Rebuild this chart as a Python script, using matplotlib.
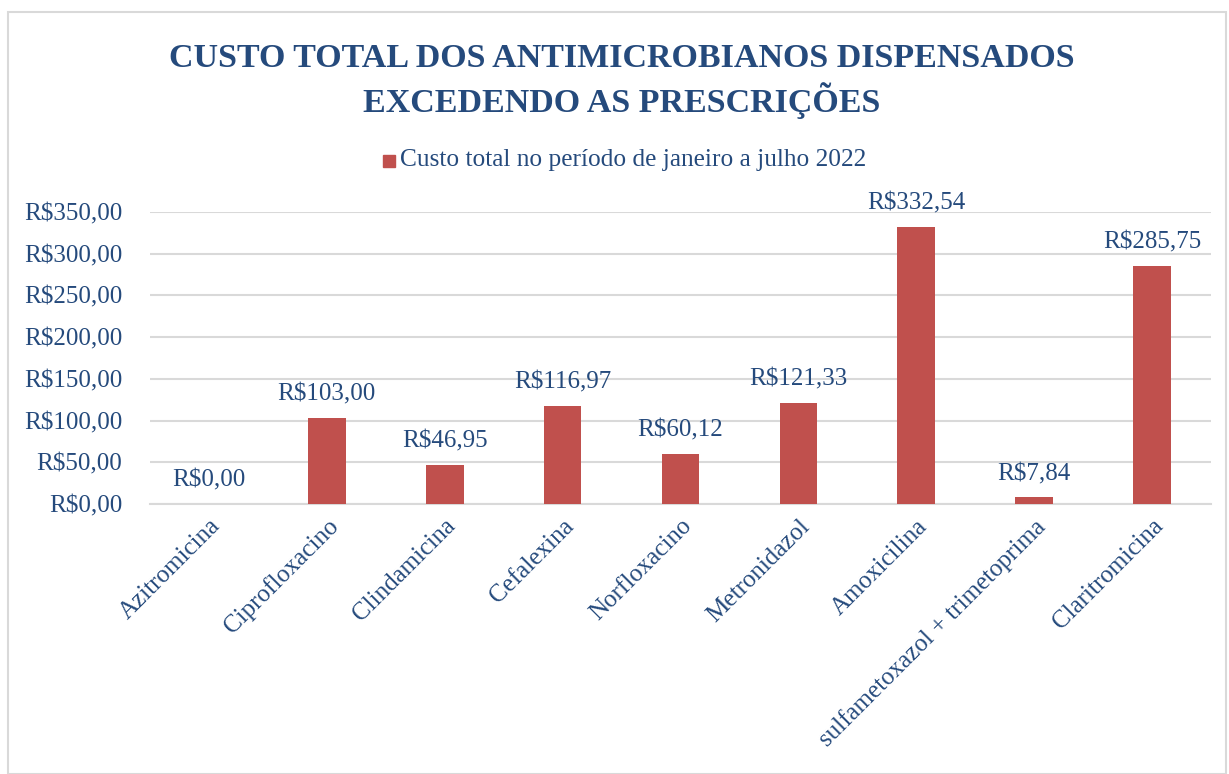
import matplotlib
matplotlib.use("Agg")
import matplotlib.pyplot as plt
from matplotlib.patches import Rectangle

categories = ["Azitromicina", "Ciprofloxacino", "Clindamicina", "Cefalexina",
              "Norfloxacino", "Metronidazol", "Amoxicilina",
              "sulfametoxazol + trimetoprima", "Claritromicina"]
values = [0.00, 103.00, 46.95, 116.97, 60.12, 121.33, 332.54, 7.84, 285.75]
yticks = [0, 50, 100, 150, 200, 250, 300, 350]
series_name = "Custo total no período de janeiro a julho 2022"
title = "CUSTO TOTAL DOS ANTIMICROBIANOS DISPENSADOS\nEXCEDENDO AS PRESCRIÇÕES"

TEXT = "#254A7C"
BAR = "#C0504D"
GRID = "#D9D9D9"


def brl(v):
    return "R$" + f"{v:,.2f}".replace(",", "X").replace(".", ",").replace("X", ".")


def main():
    plt.rcParams["font.family"] = ["Liberation Serif"]
    fig = plt.figure(figsize=(12.29, 7.74), dpi=100)
    W, H = 1229, 774
    fs = 18

    # chart area frame
    fig.patches.append(Rectangle((8 / W, 0), (1226 - 8) / W, (774 - 12) / H,
                                 transform=fig.transFigure, fill=False,
                                 edgecolor=GRID, linewidth=1.5))

    ax = fig.add_axes([150 / W, (774 - 504) / H, (1211 - 150) / W, (504 - 212) / H])
    x = range(len(categories))
    ax.bar(x, values, width=0.32, color=BAR, zorder=3)
    ax.set_xlim(-0.5, len(categories) - 0.5)
    ax.set_ylim(0, 350)
    ax.set_yticks(yticks)
    ax.set_yticklabels([brl(v) for v in yticks], color=TEXT, fontsize=fs)
    ax.yaxis.grid(True, color=GRID, linewidth=1.5, zorder=0)
    ax.tick_params(axis="y", length=0, pad=20)
    ax.tick_params(axis="x", length=0, pad=8)
    ax.set_xticks(list(x))
    ax.set_xticklabels(categories, rotation=45, ha="right", rotation_mode="anchor",
                       color=TEXT, fontsize=fs)
    for s in ["top", "right", "left"]:
        ax.spines[s].set_visible(False)
    ax.spines["bottom"].set_color(GRID)
    ax.spines["bottom"].set_linewidth(1.5)

    for xi, v in zip(x, values):
        ax.annotate(brl(v), (xi, v), xytext=(0, 9), textcoords="offset points",
                    ha="center", va="bottom", color=TEXT, fontsize=fs)

    fig.text(622 / W, 1 - 81 / H, title, ha="center", va="center",
             fontsize=24.5, fontweight="bold", color=TEXT, linespacing=1.3)

    # legend
    fig.patches.append(Rectangle((383 / W, 1 - 167 / H), 12 / W, 12 / H,
                                 transform=fig.transFigure, color=BAR))
    fig.text(400 / W, 1 - 160 / H, series_name, ha="left", va="center",
             color=TEXT, fontsize=18.3)

    fig.savefig("out.png", dpi=100)
    plt.close(fig)


if __name__ == "__main__":
    main()
